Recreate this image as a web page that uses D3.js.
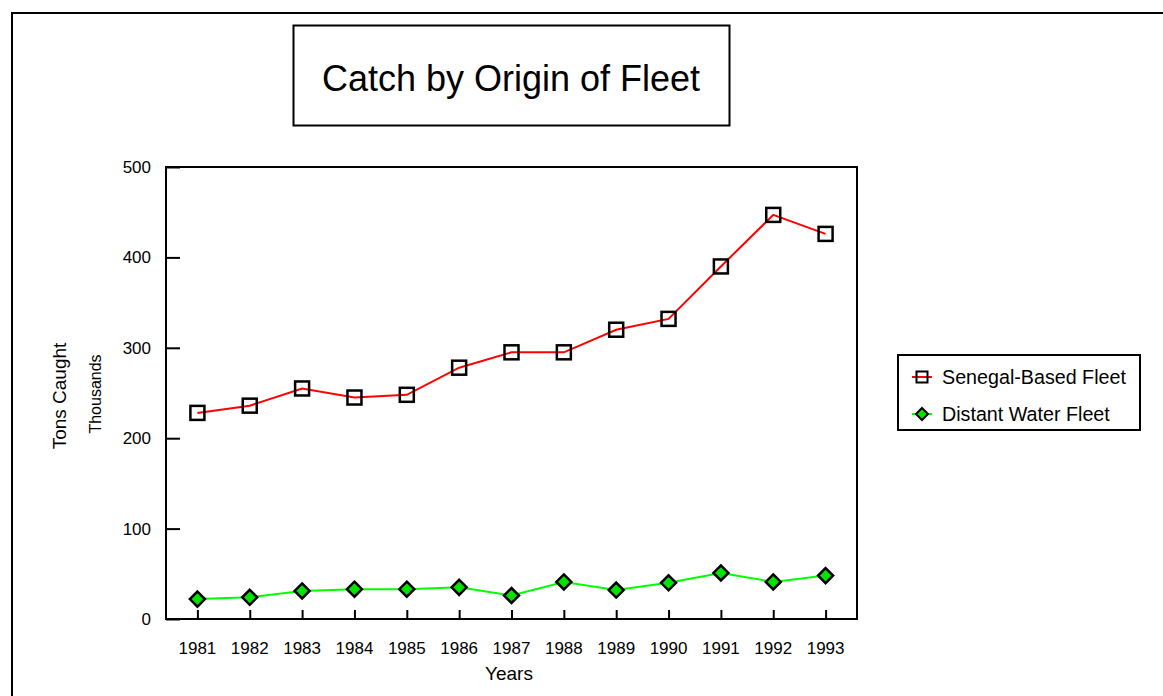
<!DOCTYPE html>
<html>
<head>
<meta charset="utf-8">
<script src="https://cdn.jsdelivr.net/npm/d3@7"></script>
<style>
  body { margin: 0; background: white; }
  text { font-family: "Liberation Sans", Arial, sans-serif; fill: black; }
</style>
</head>
<body>
<svg id="chart"></svg>
<script>
const w = 1163, h = 696;

// data
const years = ['1981','1982','1983','1984','1985','1986','1987','1988','1989','1990','1991','1992','1993'];
const senegal = [228, 236, 255, 245, 248, 278, 295, 295, 320, 332, 390, 447, 426];
const distant = [22, 24, 31, 33, 33, 35, 26, 41, 32, 40, 51, 41, 48];
const yTicks = [0, 100, 200, 300, 400, 500];
const seriesNames = ['Senegal-Based Fleet', 'Distant Water Fleet'];

// plot box
const plotL = 166, plotR = 857, plotT = 167, plotB = 619;

const svg = d3.select('#chart')
    .attr('width', w)
    .attr('height', h)
    .attr('viewBox', '0 0 ' + w + ' ' + h)
    .style('display', 'block');

//outer frame (runs off the right and bottom)
svg.append('rect')
    .attr('x', 12)
    .attr('y', 13)
    .attr('width', w + 20)
    .attr('height', h + 20)
    .attr('fill', 'none')
    .attr('stroke', 'black')
    .attr('stroke-width', 2);

//title
svg.append('rect')
    .attr('x', 293.5)
    .attr('y', 25.5)
    .attr('width', 436)
    .attr('height', 100)
    .attr('fill', 'white')
    .attr('stroke', 'black')
    .attr('stroke-width', 2);

svg.append('text')
    .attr('x', 511)
    .attr('y', 91)
    .attr('text-anchor', 'middle')
    .attr('font-size', '36px')
    .text('Catch by Origin of Fleet');

//scales
const x = d3.scalePoint()
    .domain(years)
    .range([plotL, plotR])
    .padding(0.6);

const y = d3.scaleLinear()
    .domain([0, 500])
    .range([plotB, plotT]);

//y axis ticks and labels
const yAxis = d3.axisRight(y)
    .tickValues(yTicks)
    .tickSize(14)
    .tickFormat('');

svg.append('g')
    .attr('transform', 'translate(' + plotL + ',0)')
    .call(yAxis)
    .call(g => g.select('.domain').remove())
    .selectAll('line')
    .attr('stroke', 'black')
    .attr('stroke-width', 2);

svg.append('g')
    .selectAll('text')
    .data(yTicks)
    .enter()
    .append('text')
    .attr('x', 151)
    .attr('y', d => y(d) + 6)
    .attr('text-anchor', 'end')
    .attr('font-size', '17px')
    .text(d => d);

//x axis ticks and labels
const xAxis = d3.axisTop(x)
    .tickSize(9)
    .tickFormat('');

svg.append('g')
    .attr('transform', 'translate(0,' + plotB + ')')
    .call(xAxis)
    .call(g => g.select('.domain').remove())
    .selectAll('line')
    .attr('stroke', 'black')
    .attr('stroke-width', 2);

svg.append('g')
    .selectAll('text')
    .data(years)
    .enter()
    .append('text')
    .attr('x', d => x(d))
    .attr('y', 654)
    .attr('text-anchor', 'middle')
    .attr('font-size', '17px')
    .text(d => d);

//plot border
svg.append('rect')
    .attr('x', plotL)
    .attr('y', plotT)
    .attr('width', plotR - plotL)
    .attr('height', plotB - plotT)
    .attr('fill', 'none')
    .attr('stroke', 'black')
    .attr('stroke-width', 2);

//axis titles
svg.append('text')
    .attr('x', 509)
    .attr('y', 680)
    .attr('text-anchor', 'middle')
    .attr('font-size', '19px')
    .text('Years');

svg.append('text')
    .attr('transform', 'translate(66,396) rotate(-90)')
    .attr('text-anchor', 'middle')
    .attr('font-size', '19px')
    .text('Tons Caught');

svg.append('text')
    .attr('transform', 'translate(101,394) rotate(-90)')
    .attr('text-anchor', 'middle')
    .attr('font-size', '16px')
    .text('Thousands');

//lines
const line = d3.line()
    .x((d, i) => x(years[i]))
    .y(d => y(d));

svg.append('path')
    .datum(senegal)
    .attr('d', line)
    .attr('fill', 'none')
    .attr('stroke', '#ff0000')
    .attr('stroke-width', 2);

svg.append('path')
    .datum(distant)
    .attr('d', line)
    .attr('fill', 'none')
    .attr('stroke', '#00ff00')
    .attr('stroke-width', 2);

//markers
const sq = 14;
svg.append('g')
    .selectAll('rect')
    .data(senegal)
    .enter()
    .append('rect')
    .attr('x', (d, i) => x(years[i]) - sq / 2)
    .attr('y', d => y(d) - sq / 2)
    .attr('width', sq)
    .attr('height', sq)
    .attr('fill', 'none')
    .attr('stroke', 'black')
    .attr('stroke-width', 2.5);

const diamond = 'M0,-7.5L7.5,0L0,7.5L-7.5,0Z';
svg.append('g')
    .selectAll('path')
    .data(distant)
    .enter()
    .append('path')
    .attr('d', diamond)
    .attr('transform', (d, i) => 'translate(' + x(years[i]) + ',' + y(d) + ')')
    .attr('fill', '#00e400')
    .attr('stroke', 'black')
    .attr('stroke-width', 2.5);

//legend
const legend = svg.append('g')
    .attr('transform', 'translate(898,355)');

legend.append('rect')
    .attr('width', 242)
    .attr('height', 75)
    .attr('fill', 'white')
    .attr('stroke', 'black')
    .attr('stroke-width', 2);

const lineColors = ['#ff0000', '#00ff00'];
const items = legend.selectAll('g.item')
    .data(seriesNames)
    .enter()
    .append('g')
    .attr('class', 'item')
    .attr('transform', (d, i) => 'translate(24,' + (22 + i * 37) + ')');

items.append('line')
    .attr('x1', -10)
    .attr('x2', 10)
    .attr('stroke', (d, i) => lineColors[i])
    .attr('stroke-width', 2);

items.filter((d, i) => i === 0)
    .append('rect')
    .attr('x', -5.5)
    .attr('y', -5.5)
    .attr('width', 11)
    .attr('height', 11)
    .attr('fill', 'none')
    .attr('stroke', 'black')
    .attr('stroke-width', 2);

items.filter((d, i) => i === 1)
    .append('path')
    .attr('d', 'M0,-6L6,0L0,6L-6,0Z')
    .attr('fill', '#00e400')
    .attr('stroke', 'black')
    .attr('stroke-width', 2);

items.append('text')
    .attr('x', 20)
    .attr('y', 7)
    .attr('font-size', '19.7px')
    .text(d => d);
</script>
</body>
</html>
